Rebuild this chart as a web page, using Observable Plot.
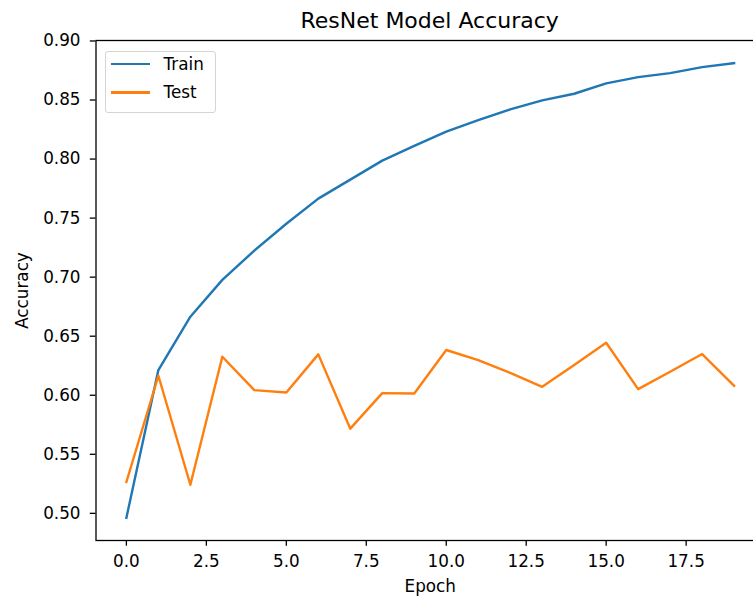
<!DOCTYPE html>
<html>
<head>
<meta charset="utf-8">
<script src="https://cdn.jsdelivr.net/npm/d3@7"></script>
<script src="https://cdn.jsdelivr.net/npm/@observablehq/plot@0.6"></script>
<style>
  html, body { margin: 0; padding: 0; background: #fff; overflow: hidden; }
  #wrap { position: relative; width: 753px; height: 601px; overflow: hidden; font-family: "DejaVu Sans", sans-serif; }
  #chart { position: absolute; left: 0; top: 0; width: 800px; }
  #chart svg { max-width: none !important; }
  #title { position: absolute; left: 0; top: 9.7px; width: 859.4px; text-align: center; font-size: 22px; line-height: 22px; color: #000; white-space: nowrap; }
  #legend { position: absolute; left: 105px; top: 50.5px; width: 109px; height: 60px; border: 1px solid #d4d4d4; border-radius: 3px; background: rgba(255,255,255,0.8); }
  .item { position: absolute; left: 0; height: 20px; width: 109px; }
  .item .sw { position: absolute; left: 5px; top: 9px; width: 38.5px; height: 2.4px; }
  .item .lb { position: absolute; left: 57.5px; top: 0; font-size: 16.8px; line-height: 20px; color: #000; }
</style>
</head>
<body>
<div id="wrap">
  <div id="chart"></div>
  <div id="title"></div>
  <div id="legend"></div>
</div>
<script>
const titleText = "ResNet Model Accuracy";
const xLabel = "Epoch";
const yLabel = "Accuracy";
const series = ["Train", "Test"];
const colors = ["#1f77b4", "#ff7f0e"];
const epochs = [0, 1, 2, 3, 4, 5, 6, 7, 8, 9, 10, 11, 12, 13, 14, 15, 16, 17, 18, 19];
const trainAcc = [0.4962, 0.6213, 0.6665, 0.6977, 0.7225, 0.7452, 0.7665, 0.7826, 0.7987, 0.8112, 0.8232, 0.8329, 0.8420, 0.8497, 0.8553, 0.8641, 0.8694, 0.8728, 0.8779, 0.8812];
const testAcc = [0.5265, 0.6165, 0.5242, 0.6326, 0.6043, 0.6023, 0.6346, 0.5717, 0.6018, 0.6015, 0.6383, 0.6298, 0.6190, 0.6071, 0.6256, 0.6445, 0.6052, 0.6199, 0.6349, 0.6080];
const xTicks = [0, 2.5, 5, 7.5, 10, 12.5, 15, 17.5];
const yTicks = [0.50, 0.55, 0.60, 0.65, 0.70, 0.75, 0.80, 0.85, 0.90];

const data = [];
epochs.forEach((e, i) => data.push({epoch: e, acc: trainAcc[i], s: series[0]}));
epochs.forEach((e, i) => data.push({epoch: e, acc: testAcc[i], s: series[1]}));

const chart = Plot.plot({
  width: 800,
  height: 601,
  marginLeft: 95.5,
  marginRight: 36,
  marginTop: 40,
  marginBottom: 61,
  style: {fontFamily: "DejaVu Sans, sans-serif", fontSize: "16.8px", color: "#000", background: "#fff", overflow: "visible", maxWidth: "none"},
  x: {domain: [-0.95, 19.95]},
  y: {domain: [0.4770, 0.9004]},
  color: {domain: series, range: colors},
  marks: [
    Plot.axisX({ticks: xTicks, tickFormat: d => d.toFixed(1), tickSize: 5.7, tickPadding: 9.3, strokeWidth: 1.3,
      label: xLabel, labelAnchor: "center", labelArrow: "none", labelOffset: 51}),
    Plot.axisY({ticks: yTicks, tickFormat: d => d.toFixed(2), tickSize: 5.7, tickPadding: 9.8, strokeWidth: 1.3,
      label: yLabel, labelAnchor: "center", labelArrow: "none", labelOffset: 80}),
    Plot.line(data, {x: "epoch", y: "acc", stroke: "s", strokeWidth: 2.4, strokeLinejoin: "round", strokeLinecap: "square"}),
    Plot.frame({stroke: "#000", strokeWidth: 1.3})
  ]
});
document.getElementById("chart").appendChild(chart);
document.getElementById("title").textContent = titleText;

const legend = document.getElementById("legend");
const rowTops = [2.5, 30.8];
series.forEach((s, i) => {
  const it = document.createElement("div");
  it.className = "item";
  it.style.top = rowTops[i] + "px";
  const sw = document.createElement("div");
  sw.className = "sw";
  sw.style.background = colors[i];
  const lb = document.createElement("div");
  lb.className = "lb";
  lb.textContent = s;
  it.appendChild(sw);
  it.appendChild(lb);
  legend.appendChild(it);
});
</script>
</body>
</html>
